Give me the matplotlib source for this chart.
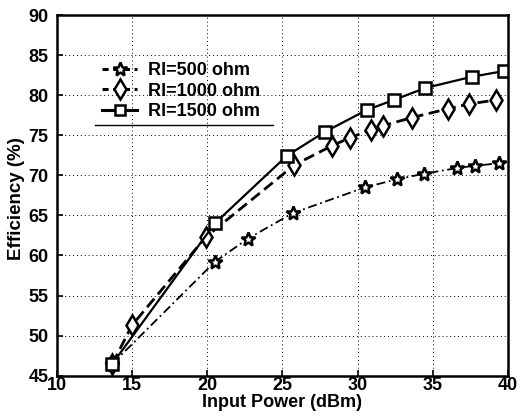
import matplotlib
matplotlib.use("Agg")
import matplotlib.pyplot as plt
from matplotlib.lines import Line2D

plt.rcParams["font.family"] = ["Liberation Sans", "DejaVu Sans"]
plt.rcParams["font.weight"] = "bold"

# Rl = 500 ohm
x500 = [13.7, 20.5, 22.7, 25.7, 30.5, 32.6, 34.4, 36.6, 37.8, 39.4]
y500 = [46.5, 59.2, 62.1, 65.3, 68.5, 69.5, 70.2, 70.9, 71.2, 71.5]

# Rl = 1000 ohm
x1000 = [13.7, 15.0, 19.9, 25.8, 28.3, 29.5, 30.9, 31.7, 33.6, 36.0, 37.4, 39.2]
y1000 = [46.5, 51.3, 62.3, 71.3, 73.7, 74.7, 75.7, 76.2, 77.2, 78.3, 78.9, 79.4]

# Rl = 1500 ohm
x1500 = [13.7, 20.5, 25.3, 27.8, 30.6, 32.4, 34.5, 37.6, 39.7]
y1500 = [46.5, 64.0, 72.45, 75.4, 78.15, 79.4, 80.9, 82.3, 83.0]

labels = ["Rl=500 ohm", "Rl=1000 ohm", "Rl=1500 ohm"]

fig = plt.figure(figsize=(5.26, 4.17), dpi=100)
ax = fig.add_axes([0.108, 0.099, 0.858, 0.865])

mk = dict(markerfacecolor="white", markeredgecolor="black", markeredgewidth=1.8)
ax.plot(x500, y500, color="black", lw=1.3, linestyle=(0, (5, 2, 1, 2)),
        marker="*", markersize=10, **mk)
ax.plot(x1000, y1000, color="black", lw=2.0, linestyle=(0, (4, 2)),
        marker="d", markersize=10, **mk)
ax.plot(x1500, y1500, color="black", lw=1.6, linestyle="-",
        marker="s", markersize=8, **mk)

ax.set_xlim(10, 40)
ax.set_ylim(45, 90)
ax.set_xticks(range(10, 41, 5))
ax.set_yticks(range(45, 91, 5))
ax.grid(True, color="black", linestyle=(0, (1, 3)), linewidth=0.7)
ax.tick_params(direction="in", length=4, width=1.2, labelsize=13)
ax.tick_params(axis="x", pad=1)
ax.tick_params(axis="y", pad=6)
for s in ax.spines.values():
    s.set_linewidth(1.8)
for lab in ax.get_xticklabels() + ax.get_yticklabels():
    lab.set_fontweight("bold")

ax.set_xlabel("Input Power (dBm)", fontsize=13, fontweight="bold", labelpad=0)
ax.set_ylabel("Efficiency (%)", fontsize=13.5, fontweight="bold")
ax.yaxis.set_label_coords(-0.07, 0.49)

handles = [
    Line2D([], [], color="black", lw=2.2, linestyle=(0, (2, 1.5)), marker="*",
           markersize=10, **mk),
    Line2D([], [], color="black", lw=2.2, linestyle=(0, (2, 1.5)), marker="d",
           markersize=10, **mk),
    Line2D([], [], color="black", lw=2.2, linestyle="-", marker="s",
           markersize=7, **mk),
]
leg = ax.legend(handles, labels, loc="upper left", bbox_to_anchor=(0.085, 0.89),
                frameon=False, fontsize=13, handlelength=1.9, handletextpad=0.6,
                labelspacing=0.2, borderaxespad=0)
for t in leg.get_texts():
    t.set_fontweight("bold")
ax.plot([0.085, 0.48], [0.695, 0.695], transform=ax.transAxes, color="black",
        lw=1.0)

fig.savefig("out.png", dpi=100)
